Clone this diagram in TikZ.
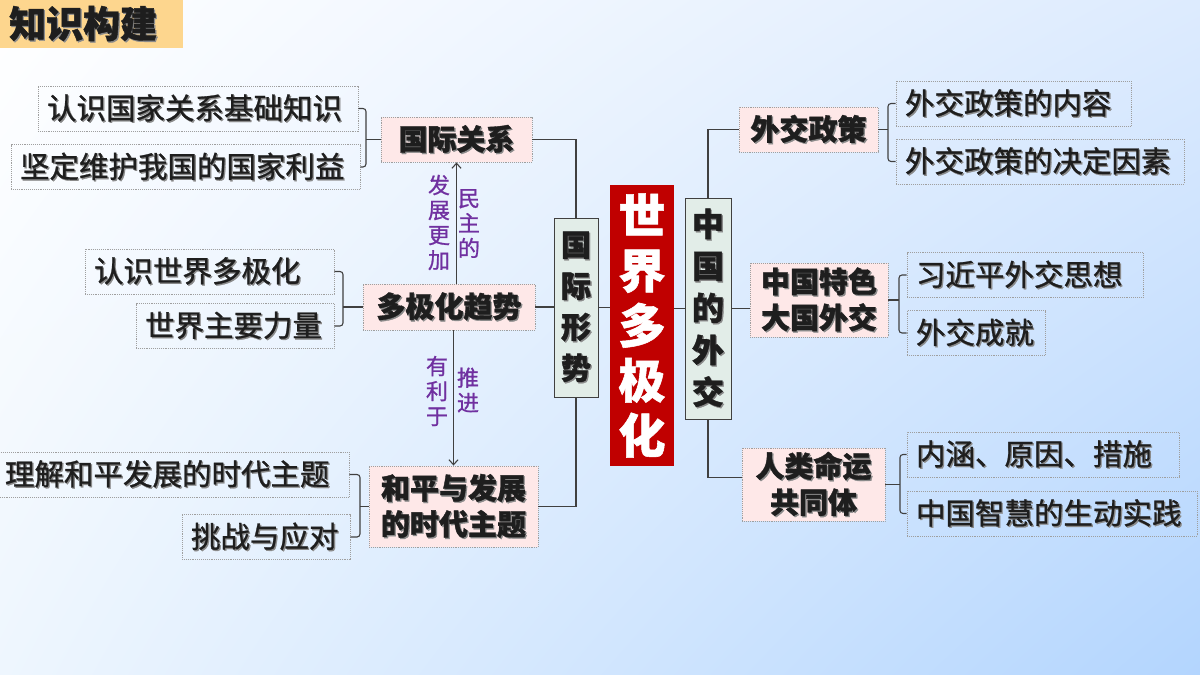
\documentclass[tikz,border=0pt]{standalone}
\usepackage{fontspec}
\newfontfamily\cjk[BoldFeatures={FakeBold=1.2}]{Noto Sans CJK SC}
\newfontfamily\cjkm[FakeBold=0.9]{Noto Sans CJK SC}
\usetikzlibrary{arrows.meta,calc,shadings}
\definecolor{bgbr}{HTML}{B3D5FE}
\definecolor{bgtr}{HTML}{DDEBFE}
\definecolor{bgbl}{HTML}{EEF6FE}
\definecolor{pinkf}{HTML}{FEE8E8}
\definecolor{grayf}{HTML}{E2EDE8}
\definecolor{redf}{HTML}{C00000}
\definecolor{titlef}{HTML}{FDD68E}
\definecolor{purp}{HTML}{7030A0}
\definecolor{linec}{HTML}{404040}
\definecolor{txt}{HTML}{1E1E1E}
\definecolor{shc}{HTML}{8A8A8A}
\newcommand\sh[1]{\rlap{\kern1.3pt\raisebox{-1.3pt}{\color{shc}#1}}#1}
\begin{document}
\begin{tikzpicture}[x=1pt,y=-1pt,
 leaf/.style={draw=gray!75, densely dotted, line width=0.9pt, inner xsep=9pt, inner ysep=0pt, align=left, text=txt, font=\cjkm\fontsize{29.5}{34}\selectfont, minimum height=45pt},
 cat/.style={draw=gray!75, densely dotted, line width=0.9pt, fill=pinkf, inner sep=0pt, align=center, text=txt, font=\cjk\bfseries\fontsize{29}{36}\selectfont},
 vbox/.style={draw=linec, line width=1pt, fill=grayf, inner sep=0pt, align=center, text=txt},
 conn/.style={draw=linec, line width=1.1pt},
 arr/.style={conn, -{Straight Barb[length=5pt,width=9pt]}},
 note/.style={text=purp, font=\cjkm\fontsize{22}{25}\selectfont, align=center, inner sep=0pt}]
\useasboundingbox (0,0) rectangle (1200,675);
\shade[upper left=white, upper right=bgtr, lower left=bgbl, lower right=bgbr] (0,0) rectangle (1200,675);

% title
\node[fill=titlef, anchor=north west, minimum height=48pt, inner xsep=9pt, inner ysep=0pt, text width=165pt, align=left, text=txt, font=\cjk\bfseries\fontsize{37}{40}\selectfont] (title) at (0,0) {\sh{知识构建}};

% left leaves
\node[leaf, text width=302pt] (n1) at (198,108.5) {\sh{认识国家关系基础知识}};
\node[leaf, text width=331pt] (n2) at (185.5,167) {\sh{坚定维护我国的国家利益}};
\node[leaf, text width=231pt] (n3) at (209.5,271.5) {\sh{认识世界多极化}};
\node[leaf, text width=180pt] (n4) at (235,326) {\sh{世界主要力量}};
\node[leaf, text width=335pt] (n5) at (172.5,474.5) {\sh{理解和平发展的时代主题}};
\node[leaf, text width=150pt] (n6) at (266,537) {\sh{挑战与应对}};

% left categories
\node[cat, minimum width=151pt, minimum height=45pt] (gjgx) at (456.5,139.5) {\sh{国际关系}};
\node[cat, minimum width=172pt, minimum height=46pt] (djh) at (449,307) {\sh{多极化趋势}};
\node[cat, minimum width=169pt, minimum height=81pt] (hp) at (453.5,506.5) {\sh{和平与发展}\\\sh{的时代主题}};

% center column
\node[vbox, minimum width=44pt, minimum height=179pt, font=\cjk\bfseries\fontsize{30}{41}\selectfont] (gjxs) at (576,307.5) {\sh{国}\\\sh{际}\\\sh{形}\\\sh{势}};
\node[fill=redf, minimum width=64pt, minimum height=281pt, inner sep=0pt, align=center, text=white, font=\cjk\bfseries\fontsize{47}{55}\selectfont] (red) at (642,325.5) {世\\界\\多\\极\\化};
\node[vbox, minimum width=46pt, minimum height=221pt, font=\cjk\bfseries\fontsize{32}{42}\selectfont] (zgwj) at (708,308.5) {\sh{中}\\\sh{国}\\\sh{的}\\\sh{外}\\\sh{交}};

% right categories
\node[cat, minimum width=139pt, minimum height=45pt] (wjzc) at (808.5,129.5) {\sh{外交政策}};
\node[cat, minimum width=138pt, minimum height=74pt] (tsdg) at (819,300) {\sh{中国特色}\\\sh{大国外交}};
\node[cat, minimum width=143pt, minimum height=73pt] (rlmy) at (813.5,484.5) {\sh{人类命运}\\\sh{共同体}};

% right leaves
\node[leaf, text width=217pt] (r1) at (1013.5,103.5) {\sh{外交政策的内容}};
\node[leaf, text width=270pt] (r2) at (1040,161.5) {\sh{外交政策的决定因素}};
\node[leaf, text width=218pt] (r3) at (1025,275) {\sh{习近平外交思想}};
\node[leaf, text width=120pt] (r4) at (976,333) {\sh{外交成就}};
\node[leaf, text width=254pt] (r5) at (1043,454.5) {\sh{内涵、原因、措施}};
\node[leaf, text width=272pt] (r6) at (1052,513.5) {\sh{中国智慧的生动实践}};

% notes
\node[note] (l1) at (439,222.5) {发\\展\\更\\加};
\node[note] (l2) at (469,223.5) {民\\主\\的};
\node[note] (l3) at (437,391) {有\\利\\于};
\node[note] (l4) at (468,390) {推\\进};

% bracket coordinates
\coordinate (b1) at (366,139.5);
\coordinate (b2) at (343,307);
\coordinate (b3) at (360,506.5);
\coordinate (b4) at (888,129.5);
\coordinate (b5) at (899,300);
\coordinate (b6) at (900,484.5);

% brackets
\draw[conn, rounded corners=3pt] (n1.east) -| (b1) |- (n2.east);
\draw[conn] (b1) -- (gjgx.west);
\draw[conn, rounded corners=3pt] (n3.east) -| (b2) |- (n4.east);
\draw[conn] (b2) -- (djh.west);
\draw[conn, rounded corners=3pt] (n5.east) -| (b3) |- (n6.east);
\draw[conn] (b3) -- (hp.west);
\draw[conn, rounded corners=3pt] (r1.west) -| (b4) |- (r2.west);
\draw[conn] (wjzc.east) -- (b4);
\draw[conn, rounded corners=3pt] (r3.west) -| (b5) |- (r4.west);
\draw[conn] (tsdg.east) -- (b5);
\draw[conn, rounded corners=3pt] (r5.west) -| (b6) |- (r6.west);
\draw[conn] (rlmy.east) -- (b6);

% main connectors
\draw[conn] (gjgx.east) -| (gjxs.north);
\draw[conn] (djh.east) -- (gjxs.west |- djh.east);
\draw[conn] (hp.east) -| (gjxs.south);
\draw[conn] (gjxs.east) -- (gjxs.east -| red.west);
\draw[conn] (zgwj.west -| red.east) -- (zgwj.west);
\draw[conn] (zgwj.north) |- (wjzc.west);
\draw[conn] (zgwj.east) -- (zgwj.east -| tsdg.west);
\draw[conn] (zgwj.south) |- ($(rlmy.west)+(0,-7)$);

% arrows
\draw[arr] (djh.north -| gjgx.south) -- (gjgx.south);
\draw[arr] (djh.south -| hp.north) -- (hp.north);
\end{tikzpicture}
\end{document}
